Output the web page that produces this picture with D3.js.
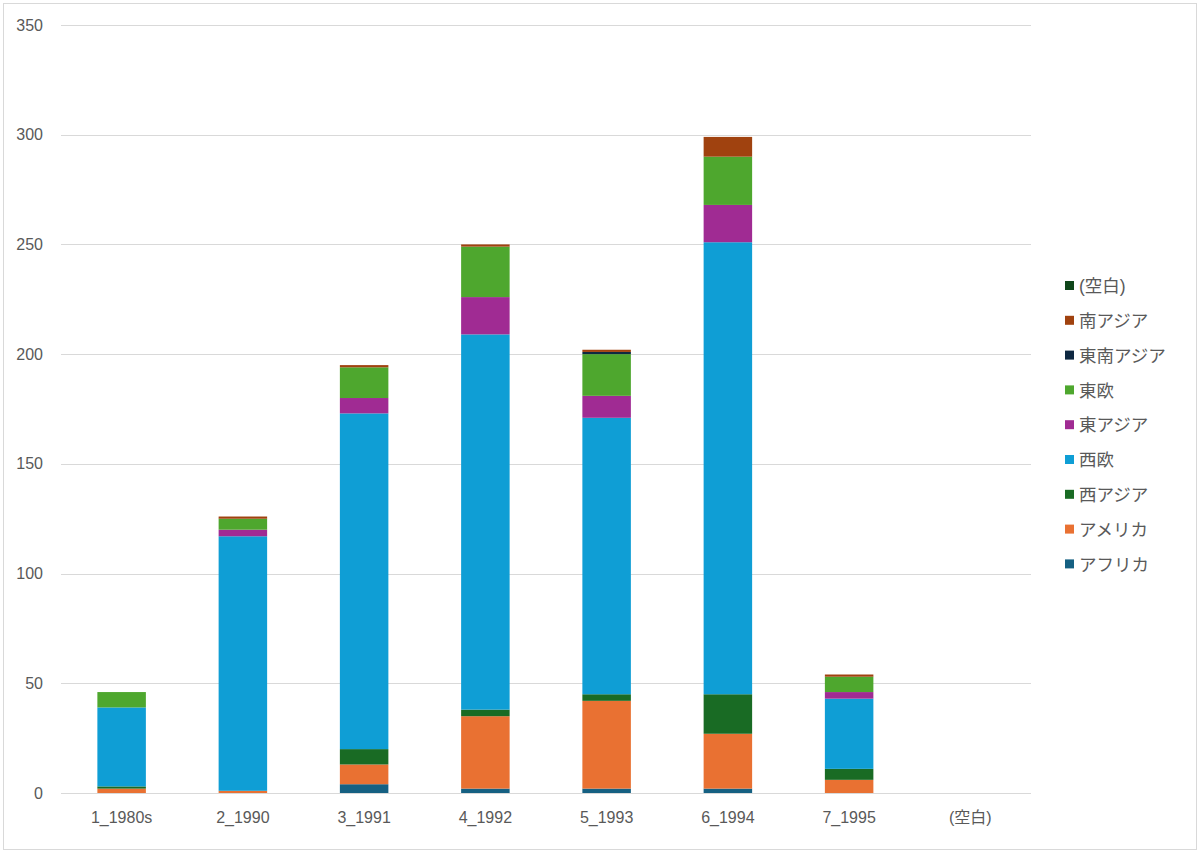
<!DOCTYPE html>
<html>
<head>
<meta charset="utf-8">
<script src="https://cdn.jsdelivr.net/npm/d3@7"></script>
<style>
  body { margin: 0; background: #fff; }
  svg { font-family: "Liberation Sans", "Noto Sans CJK JP", sans-serif; }
</style>
</head>
<body>
<div id="chart"></div>
<script>
// カテゴリと系列データ
const categories = ["1_1980s", "2_1990", "3_1991", "4_1992", "5_1993", "6_1994", "7_1995", "(空白)"];
const seriesNames = ["アフリカ", "アメリカ", "西アジア", "西欧", "東アジア", "東欧", "東南アジア", "南アジア", "(空白)"];
const seriesColors = ["#156082", "#e97132", "#196b24", "#0f9ed5", "#a02b93", "#4ea72e", "#0e2841", "#a0420f", "#10461a"];

const africa    = [0, 0, 4, 2, 2, 2, 0, 0];
const america   = [2, 1, 9, 33, 40, 25, 6, 0];
const westAsia  = [1, 0, 7, 3, 3, 18, 5, 0];
const westEu    = [36, 116, 153, 171, 126, 206, 32, 0];
const eastAsia  = [0, 3, 7, 17, 10, 17, 3, 0];
const eastEu    = [7, 5, 14, 23, 19, 22, 7, 0];
const seAsia    = [0, 0, 0, 0, 1, 0, 0, 0];
const southAsia = [0, 1, 1, 1, 1, 9, 1, 0];
const blank     = [0, 0, 0, 0, 0, 0, 0, 0];

const yTicks = [0, 50, 100, 150, 200, 250, 300, 350];

const seriesValues = [africa, america, westAsia, westEu, eastAsia, eastEu, seAsia, southAsia, blank];

// stack 用のテーブル
const table = categories.map((c, i) => {
    const row = { cat: c };
    seriesNames.forEach((s, j) => { row[s] = seriesValues[j][i]; });
    return row;
});

const width = 1200, height = 853;
const margin = { left: 61, right: 169, top: 25, bottom: 60 };

const svg = d3.select("#chart").append("svg")
    .attr("width", width)
    .attr("height", height);

// 外枠
svg.append("rect")
    .attr("x", 3.5).attr("y", 3.5)
    .attr("width", width - 7).attr("height", height - 7)
    .attr("fill", "#fff")
    .attr("stroke", "#d9d9d9");

const x = d3.scaleBand()
    .domain(categories)
    .range([margin.left, width - margin.right])
    .paddingInner(0.6)
    .paddingOuter(0.3);

const y = d3.scaleLinear()
    .domain([0, 350])
    .range([height - margin.bottom, margin.top]);

// グリッド線
svg.append("g")
    .selectAll("line")
    .data(yTicks)
    .enter()
    .append("line")
    .attr("x1", margin.left)
    .attr("x2", width - margin.right)
    .attr("y1", d => Math.round(y(d)) + 0.5)
    .attr("y2", d => Math.round(y(d)) + 0.5)
    .style("stroke", "#d9d9d9")
    .style("stroke-width", 1);

// Y 軸ラベル
svg.append("g")
    .selectAll("text")
    .data(yTicks)
    .enter()
    .append("text")
    .attr("x", 43)
    .attr("y", d => y(d))
    .attr("dy", "0.35em")
    .attr("text-anchor", "end")
    .style("font-size", "16px")
    .style("fill", "#595959")
    .text(d => d);

// 積み上げ棒
const stack = d3.stack().keys(seriesNames);
const layers = stack(table);

svg.append("g")
    .selectAll("g")
    .data(layers)
    .enter()
    .append("g")
    .attr("fill", (d, i) => seriesColors[i])
    .selectAll("rect")
    .data(d => d)
    .enter()
    .append("rect")
    .attr("x", d => x(d.data.cat))
    .attr("width", x.bandwidth())
    .attr("y", d => y(d[1]))
    .attr("height", d => y(d[0]) - y(d[1]));

// X 軸ラベル
svg.append("g")
    .selectAll("text")
    .data(categories)
    .enter()
    .append("text")
    .attr("x", d => x(d) + x.bandwidth() / 2)
    .attr("y", 823)
    .attr("text-anchor", "middle")
    .style("font-size", "16px")
    .style("fill", "#595959")
    .text(d => d);

// 凡例（逆順）
const legendItems = seriesNames.map((s, i) => ({ name: s, color: seriesColors[i] })).reverse();
const legend = svg.append("g")
    .selectAll("g")
    .data(legendItems)
    .enter()
    .append("g")
    .attr("transform", (d, i) => `translate(1065, ${286 + i * 34.8})`);

legend.append("rect")
    .attr("x", 0).attr("y", -5)
    .attr("width", 9).attr("height", 9)
    .attr("fill", d => d.color);

legend.append("text")
    .attr("x", 14)
    .attr("y", 0)
    .attr("dy", "0.35em")
    .style("font-size", "17.5px")
    .style("fill", "#595959")
    .text(d => d.name);
</script>
</body>
</html>
